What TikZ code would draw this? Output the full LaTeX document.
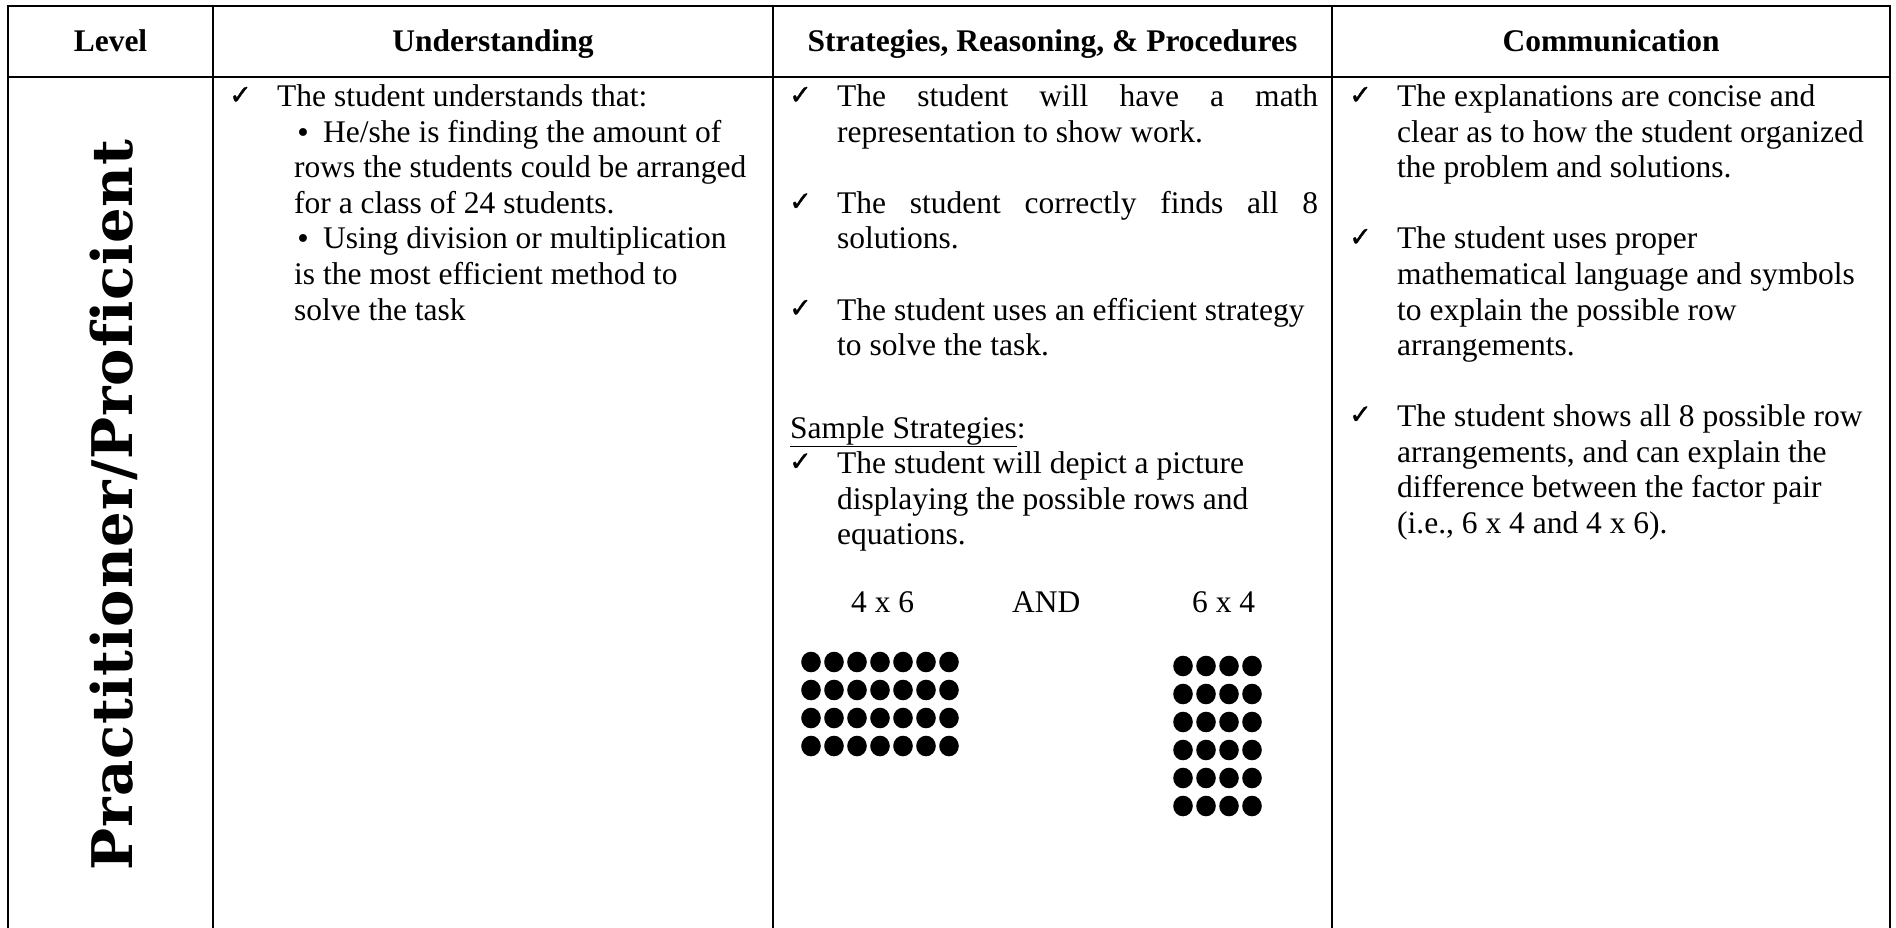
\documentclass[tikz,border=0pt]{standalone}
\usepackage{fontspec}
\setmainfont[Ligatures=NoCommon]{Liberation Serif}
\newfontfamily\checkfont[FakeBold=1.2]{DejaVu Sans}
\newfontfamily\bulletfont{DejaVu Sans}
\newfontfamily\levelfont[LetterSpace=1.5,Ligatures=NoCommon]{DejaVu Serif}
\begin{document}
\begin{tikzpicture}[x=1pt,y=-1pt,
  rule/.style={line width=2.6pt},
  txt/.style={anchor=base west,inner sep=0pt,font=\fontsize{31.5}{35.5}\selectfont},
  hdr/.style={anchor=base,inner sep=0pt,font=\fontsize{31.5}{35.5}\selectfont\bfseries},
  chk/.style={anchor=base west,inner sep=0pt,font=\checkfont\fontsize{27}{27}\selectfont},
  blt/.style={anchor=base west,inner sep=0pt,font=\bulletfont\fontsize{27}{27}\selectfont},
  dotfill/.style={fill=black}]
\useasboundingbox (0,0) rectangle (1896,928);
% table rules
\coordinate (tl) at (8,6);
\coordinate (tr) at (1890,6);
\coordinate (hl) at (8,77);
\coordinate (hr) at (1890,77);
\coordinate (bl) at (8,928);
\coordinate (br) at (1890,928);
\coordinate (c1t) at (213,6);
\coordinate (c1b) at (213,928);
\coordinate (c2t) at (773,6);
\coordinate (c2b) at (773,928);
\coordinate (c3t) at (1332,6);
\coordinate (c3b) at (1332,928);
\draw[rule] (bl) -- (tl) -- (tr) -- (br);
\draw[rule] (hl) -- (hr);
\draw[rule] (c1t) -- (c1b);
\draw[rule] (c2t) -- (c2b);
\draw[rule] (c3t) -- (c3b);
% headers
\node[hdr] (h1) at (110.5,52) {Level};
\node[hdr] (h2) at (493,52) {Understanding};
\node[hdr] (h3) at (1052.5,52) {Strategies, Reasoning, \& Procedures};
\node[hdr] (h4) at (1611,52) {Communication};
% level
\node[rotate=90,inner sep=0pt,font=\levelfont\bfseries\fontsize{56}{60}\selectfont] (lvl) at (114,505) {Practitioner/Proficient};
% Understanding column
\node[chk] (uc1) at (229,104) {✓};
\node[txt] (u1) at (277,107) {The student understands that:};
\node[blt] (ub1) at (295,142.5) {•};
\node[txt] (u2) at (323,142.5) {He/she is finding the amount of};
\node[txt] (u3) at (294,178) {rows the students could be arranged};
\node[txt] (u4) at (294,213.5) {for a class of 24 students.};
\node[blt] (ub2) at (295,249) {•};
\node[txt] (u5) at (323,249) {Using division or multiplication};
\node[txt] (u6) at (294,284.5) {is the most efficient method to};
\node[txt] (u7) at (294,320) {solve the task};
% Strategies column
\node[chk] (sc1) at (789,104) {✓};
\node[txt] (s1) at (837,107) {\makebox[481pt][s]{The student will have a math}};
\node[txt] (s2) at (837,142.5) {representation to show work.};
\node[chk] (sc2) at (789,210.5) {✓};
\node[txt] (s3) at (837,213.5) {\makebox[481pt][s]{The student correctly finds all 8}};
\node[txt] (s4) at (837,249) {solutions.};
\node[chk] (sc3) at (789,317) {✓};
\node[txt] (s5) at (837,320) {The student uses an efficient strategy};
\node[txt] (s6) at (837,355.5) {to solve the task.};
\node[txt] (s7) at (790,438) {\underline{Sample Strategies}:};
\node[chk] (sc4) at (789,470.5) {✓};
\node[txt] (s8) at (837,473.5) {The student will depict a picture};
\node[txt] (s9) at (837,509) {displaying the possible rows and};
\node[txt] (s10) at (837,544.5) {equations.};
\node[txt] (s11) at (851,612) {4 x 6};
\node[txt] (s12) at (1012,612) {AND};
\node[txt] (s13) at (1192,612) {6 x 4};
% dots
\foreach \r in {0,...,3}{
  \foreach \c in {0,...,6}{
    \fill[dotfill] (811+23*\c,662+28*\r) ellipse [x radius=9.8, y radius=10.3];
  }
}
\foreach \r in {0,...,5}{
  \foreach \c in {0,...,3}{
    \fill[dotfill] (1183+23*\c,666+28*\r) ellipse [x radius=9.8, y radius=10.3];
  }
}
% Communication column
\node[chk] (cc1) at (1349,104) {✓};
\node[txt] (m1) at (1397,107) {The explanations are concise and};
\node[txt] (m2) at (1397,142.5) {clear as to how the student organized};
\node[txt] (m3) at (1397,178) {the problem and solutions.};
\node[chk] (cc2) at (1349,246) {✓};
\node[txt] (m4) at (1397,249) {The student uses proper};
\node[txt] (m5) at (1397,284.5) {mathematical language and symbols};
\node[txt] (m6) at (1397,320) {to explain the possible row};
\node[txt] (m7) at (1397,355.5) {arrangements.};
\node[chk] (cc3) at (1349,423.5) {✓};
\node[txt] (m8) at (1397,426.5) {The student shows all 8 possible row};
\node[txt] (m9) at (1397,462) {arrangements, and can explain the};
\node[txt] (m10) at (1397,497.5) {difference between the factor pair};
\node[txt] (m11) at (1397,533) {(i.e., 6 x 4 and 4 x 6).};
\end{tikzpicture}
\end{document}
